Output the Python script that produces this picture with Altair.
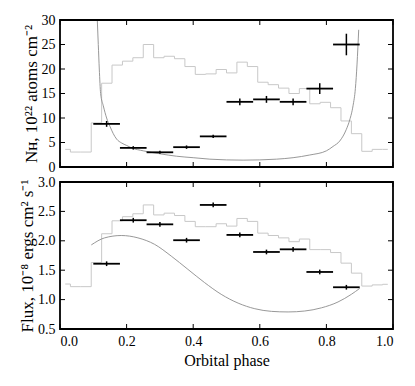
import altair as alt
import pandas as pd

FONT = "Liberation Serif"

# histogram bin centres (32 bins over orbital phase)
bin_phase = [0.0156, 0.0469, 0.0781, 0.1094, 0.1406, 0.1719, 0.2031, 0.2344,
             0.2656, 0.2969, 0.3281, 0.3594, 0.3906, 0.4219, 0.4531, 0.4844,
             0.5156, 0.5469, 0.5781, 0.6094, 0.6406, 0.6719, 0.7031, 0.7344,
             0.7656, 0.7969, 0.8281, 0.8594, 0.8906, 0.9219, 0.9531, 0.9844]
nh_step = [3.6, 3.05, 3.05, 9.0, 17.1, 20.8, 21.6, 22.3, 25.0, 22.3, 22.6, 22.1,
           20.5, 18.9, 19.0, 19.9, 19.2, 21.4, 20.5, 17.3, 16.8, 16.1, 15.0, 16.0,
           12.9, 13.2, 12.1, 9.4, 6.8, 3.2, 3.6, 3.6]
flux_step = [1.265, 1.22, 1.22, 1.63, 2.12, 2.34, 2.41, 2.46, 2.61, 2.44, 2.47, 2.43,
             2.33, 2.24, 2.24, 2.29, 2.25, 2.38, 2.33, 2.13, 2.09, 2.05, 1.985, 2.03,
             1.85, 1.85, 1.80, 1.62, 1.45, 1.23, 1.25, 1.26]

# model curves
nh_model_phase = [0.106, 0.112, 0.115, 0.118, 0.122, 0.13, 0.14, 0.15, 0.16, 0.17,
                  0.185, 0.20, 0.215, 0.25, 0.30, 0.35, 0.40, 0.45, 0.50, 0.55,
                  0.60, 0.65, 0.70, 0.75, 0.80, 0.82, 0.84, 0.86, 0.87, 0.88,
                  0.887, 0.892, 0.897]
nh_model = [40.0, 30.0, 25.0, 20.0, 15.0, 12.5, 10.0, 8.3, 6.8, 5.7,
            4.9, 4.4, 3.9, 3.3, 2.7, 2.2, 1.9, 1.6, 1.45, 1.4,
            1.45, 1.6, 1.9, 2.45, 3.3, 4.2, 5.3, 7.7, 9.6, 12.5,
            16.0, 21.0, 28.0]
flux_model_phase = [0.094, 0.134, 0.184, 0.234, 0.284, 0.334, 0.384, 0.434, 0.484,
                    0.535, 0.585, 0.635, 0.685, 0.735, 0.785, 0.835, 0.875, 0.90]
flux_model = [1.93, 2.05, 2.09, 2.05, 1.94, 1.74, 1.515, 1.29, 1.09,
              0.94, 0.845, 0.80, 0.79, 0.806, 0.86, 0.96, 1.09, 1.19]

# measured points
pt_phase = [0.14, 0.22, 0.30, 0.38, 0.46, 0.54, 0.62, 0.70, 0.78, 0.86]
pt_halfwidth = [0.04, 0.04, 0.04, 0.04, 0.04, 0.04, 0.04, 0.04, 0.04, 0.04]
nh_pts = [8.8, 3.9, 3.0, 4.05, 6.25, 13.3, 13.8, 13.3, 16.0, 25.0]
nh_err = [0.6, 0.35, 0.3, 0.35, 0.35, 0.7, 0.7, 0.7, 1.1, 2.2]
flux_pts = [1.61, 2.35, 2.28, 2.01, 2.61, 2.10, 1.81, 1.855, 1.47, 1.21]
flux_err = [0.04, 0.04, 0.04, 0.04, 0.04, 0.04, 0.04, 0.04, 0.04, 0.04]

x_ticks = [0.0, 0.2, 0.4, 0.6, 0.8, 1.0]
nh_ticks = [0, 5, 10, 15, 20, 25, 30]
flux_ticks = [0.5, 1.0, 1.5, 2.0, 2.5, 3.0]

W, H = 333, 147
TK = 5


def panel(step_vals, mphase, mvals, pts, errs, ydom, yticks, yfmt, ytitle, bottom, tpad):
    xs = alt.Scale(domain=[0, 1], nice=False, zero=False)
    ys = alt.Scale(domain=ydom, nice=False, zero=False)
    if bottom:
        xaxis = alt.Axis(orient="bottom", values=x_ticks, format=".1f",
                         title="Orbital phase", labelPadding=5, titlePadding=4,
                         domain=False, ticks=False, grid=False, labelOverlap=False)
    else:
        xaxis = None
    yaxis = alt.Axis(orient="left", values=yticks, format=yfmt, title=ytitle,
                     labelPadding=5, titlePadding=tpad, titleFontSize=17,
                     domain=False, ticks=False, grid=False, labelOverlap=False)

    step_df = pd.DataFrame({"phase": bin_phase, "v": step_vals})
    model_df = pd.DataFrame({"phase": mphase, "v": mvals})
    pts_df = pd.DataFrame({
        "phase": pt_phase,
        "lo": [p - h for p, h in zip(pt_phase, pt_halfwidth)],
        "hi": [p + h for p, h in zip(pt_phase, pt_halfwidth)],
        "v": pts,
        "vlo": [v - e for v, e in zip(pts, errs)],
        "vhi": [v + e for v, e in zip(pts, errs)],
    })
    xt_df = pd.DataFrame({"t": x_ticks})
    yt_df = pd.DataFrame({"t": yticks})

    step = alt.Chart(step_df).mark_line(
        interpolate="step", color="#c8c8c8", strokeWidth=1
    ).encode(
        x=alt.X("phase:Q", scale=xs, axis=xaxis),
        y=alt.Y("v:Q", scale=ys, axis=yaxis),
    )
    model = alt.Chart(model_df).mark_line(
        interpolate="monotone", color="#8c8c8c", strokeWidth=0.9, clip=True
    ).encode(
        x=alt.X("phase:Q", scale=xs, axis=None),
        y=alt.Y("v:Q", scale=ys, axis=None),
    )
    hbar = alt.Chart(pts_df).mark_rule(color="black", strokeWidth=1.8).encode(
        x=alt.X("lo:Q", scale=xs, axis=None),
        x2="hi:Q",
        y=alt.Y("v:Q", scale=ys, axis=None),
    )
    vbar = alt.Chart(pts_df).mark_rule(color="black", strokeWidth=1.5).encode(
        x=alt.X("phase:Q", scale=xs, axis=None),
        y=alt.Y("vlo:Q", scale=ys, axis=None),
        y2="vhi:Q",
    )
    xt_top = alt.Chart(xt_df).mark_rule(color="black", strokeWidth=1).encode(
        x=alt.X("t:Q", scale=xs, axis=None), y=alt.value(0), y2=alt.value(TK))
    xt_bot = alt.Chart(xt_df).mark_rule(color="black", strokeWidth=1).encode(
        x=alt.X("t:Q", scale=xs, axis=None), y=alt.value(H - TK), y2=alt.value(H))
    yt_l = alt.Chart(yt_df).mark_rule(color="black", strokeWidth=1).encode(
        y=alt.Y("t:Q", scale=ys, axis=None), x=alt.value(0), x2=alt.value(TK))
    yt_r = alt.Chart(yt_df).mark_rule(color="black", strokeWidth=1).encode(
        y=alt.Y("t:Q", scale=ys, axis=None), x=alt.value(W - TK), x2=alt.value(W))
    frame = alt.Chart(pd.DataFrame({"a": [0]})).mark_rect(
        fillOpacity=0, stroke="black", strokeWidth=1.8
    ).encode(x=alt.value(0), x2=alt.value(W), y=alt.value(0), y2=alt.value(H))
    return alt.layer(step, model, hbar, vbar, xt_top, xt_bot, yt_l, yt_r, frame
                     ).resolve_axis(x="independent", y="independent"
                     ).properties(width=W, height=H)


top = panel(nh_step, nh_model_phase, nh_model, nh_pts, nh_err, [0, 30], nh_ticks, "d",
            "Nʜ, 10²² atoms cm⁻²", False, 1)
bot = panel(flux_step, flux_model_phase, flux_model, flux_pts, flux_err, [0.5, 3.0],
            flux_ticks, ".1f", "Flux, 10⁻⁸ ergs cm² s⁻¹", True, 1)

chart = alt.vconcat(top, bot, spacing=15, bounds="flush").properties(
    padding={"left": 10, "top": 5, "right": 5, "bottom": 5}
).configure_view(
    strokeWidth=0
).configure_axis(
    labelFont=FONT, titleFont=FONT, labelFontSize=14, titleFontSize=16,
    labelColor="black", titleColor="black", titleFontWeight="normal",
    labelOverlap=False
)

chart.save("out.html", embed_options={"renderer": "svg", "actions": False})
